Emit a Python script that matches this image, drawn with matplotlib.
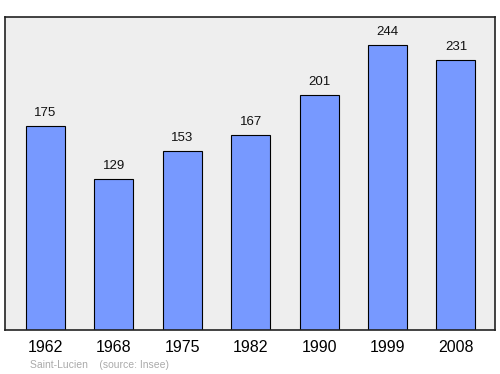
import numpy as np
import matplotlib.pyplot as plt

plt.rcParams["font.family"] = ["Liberation Sans", "DejaVu Sans"]

years = ["1962", "1968", "1975", "1982", "1990", "1999", "2008"]
population = [175, 129, 153, 167, 201, 244, 231]

fig = plt.figure(figsize=(5, 3.74), dpi=100)
ax = fig.add_axes([0.01, 44 / 374, 0.98, 313 / 374])
ax.set_facecolor("#eeeeee")

x = np.arange(len(years))
ax.bar(x, population, width=0.57, color="#7799ff", edgecolor="black", linewidth=0.8, zorder=2)

# value labels above bars
for xi, v in zip(x, population):
    ax.annotate(str(v), (xi, v), xytext=(0, 5), textcoords="offset points",
                ha="center", va="bottom", fontsize=9.5, color="#111111")

ax.set_xlim(-0.59, 6.57)
ax.set_ylim(0, 268)
ax.set_yticks([])
ax.set_xticks(x)
ax.set_xticklabels(years, fontsize=11.5)
ax.tick_params(axis="x", length=0, pad=7)
for s in ax.spines.values():
    s.set_linewidth(1.2)
    s.set_color("#222222")

fig.text(30 / 500, 1 - 365 / 374, "Saint-Lucien    (source: Insee)", fontsize=7.5,
         color="#aaaaaa", ha="left", va="center")

fig.savefig("out.png")
